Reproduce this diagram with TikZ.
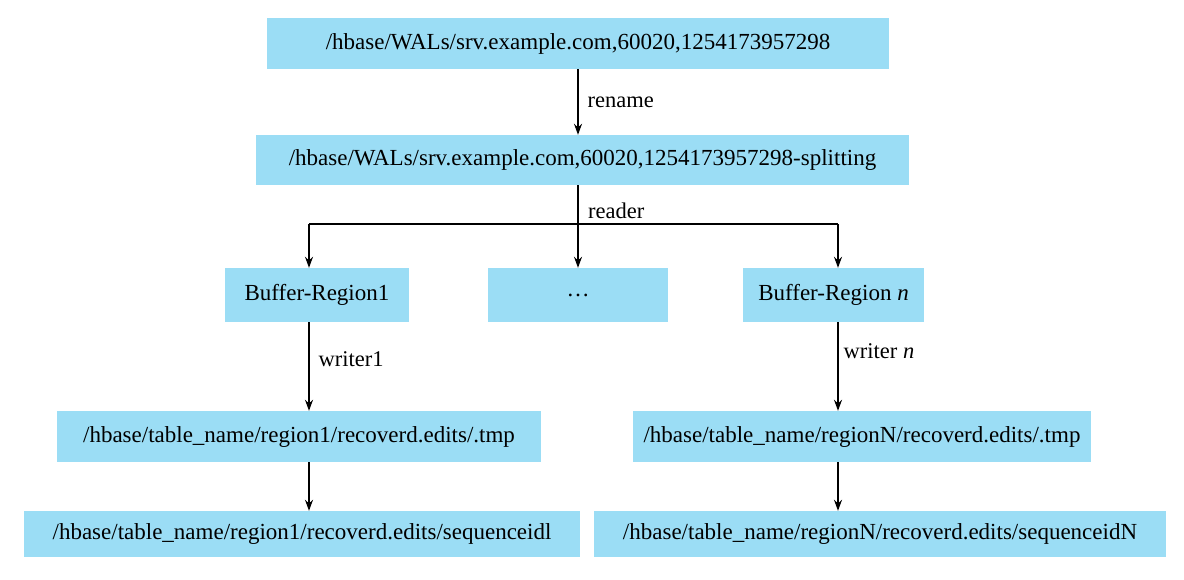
\documentclass[tikz,border=0pt]{standalone}
\usepackage{fontspec}
\setmainfont{Liberation Serif}
\usetikzlibrary{arrows.meta}
\definecolor{boxblue}{RGB}{155,221,245}
\begin{document}
\begin{tikzpicture}[x=1pt,y=-1pt,
  box/.style={fill=boxblue,draw=none,inner sep=0pt,font=\fontsize{23}{27}\selectfont},
  lbl/.style={font=\fontsize{22.5}{26}\selectfont,anchor=west,inner sep=0pt},
  conn/.style={line width=1.4pt,-{Stealth[length=11pt,width=8pt]}},
  plain/.style={line width=1.4pt}]
\useasboundingbox (0,0) rectangle (1184,579);
\node[box,minimum width=622pt,minimum height=51pt] (b1) at (578,43.5) {/hbase/WALs/srv.example.com,60020,1254173957298};
\node[box,minimum width=653pt,minimum height=50pt] (b2) at (582.5,160) {/hbase/WALs/srv.example.com,60020,1254173957298-splitting};
\node[box,minimum width=184pt,minimum height=54pt] (r1) at (317,295) {Buffer-Region1};
\node[box,minimum width=180pt,minimum height=54pt] (rd) at (578,295) {\dots};
\node[box,minimum width=181pt,minimum height=54pt] (rn) at (833.5,295) {Buffer-Region \textit{n}};
\node[box,minimum width=484pt,minimum height=51pt] (l4) at (299,436.5) {/hbase/table\_name/region1/recoverd.edits/.tmp};
\node[box,minimum width=458pt,minimum height=51pt] (r4) at (862,436.5) {/hbase/table\_name/regionN/recoverd.edits/.tmp};
\node[box,minimum width=556pt,minimum height=46pt] (l5) at (302,534) {/hbase/table\_name/region1/recoverd.edits/sequenceidl};
\node[box,minimum width=572pt,minimum height=46pt] (r5) at (880,534) {/hbase/table\_name/regionN/recoverd.edits/sequenceidN};
\coordinate (mx) at (578,0);
\coordinate (lx) at (309,0);
\coordinate (rx) at (838,0);
\coordinate (jl) at (309,224);
\coordinate (jr) at (838,224);
\coordinate (jm) at (578,224);
\draw[conn] (b1.south -| mx) -- (b2.north -| mx) node[lbl,midway,xshift=9pt] (t1) {rename};
\draw[conn] (b2.south -| mx) -- (rd.north -| mx);
\node[lbl] (t2) at (588,211) {reader};
\draw[plain] (jl) -- (jr);
\draw[conn] (jl) -- (r1.north -| lx);
\draw[conn] (jr) -- (rn.north -| rx);
\draw[conn] (r1.south -| lx) -- (l4.north -| lx) node[lbl,pos=0.42,xshift=9pt] (t3) {writer1};
\draw[conn] (l4.south -| lx) -- (l5.north -| lx);
\draw[conn] (rn.south -| rx) -- (r4.north -| rx) node[lbl,pos=0.33,xshift=5pt] (t4) {writer \textit{n}};
\draw[conn] (r4.south -| rx) -- (r5.north -| rx);
\end{tikzpicture}
\end{document}
